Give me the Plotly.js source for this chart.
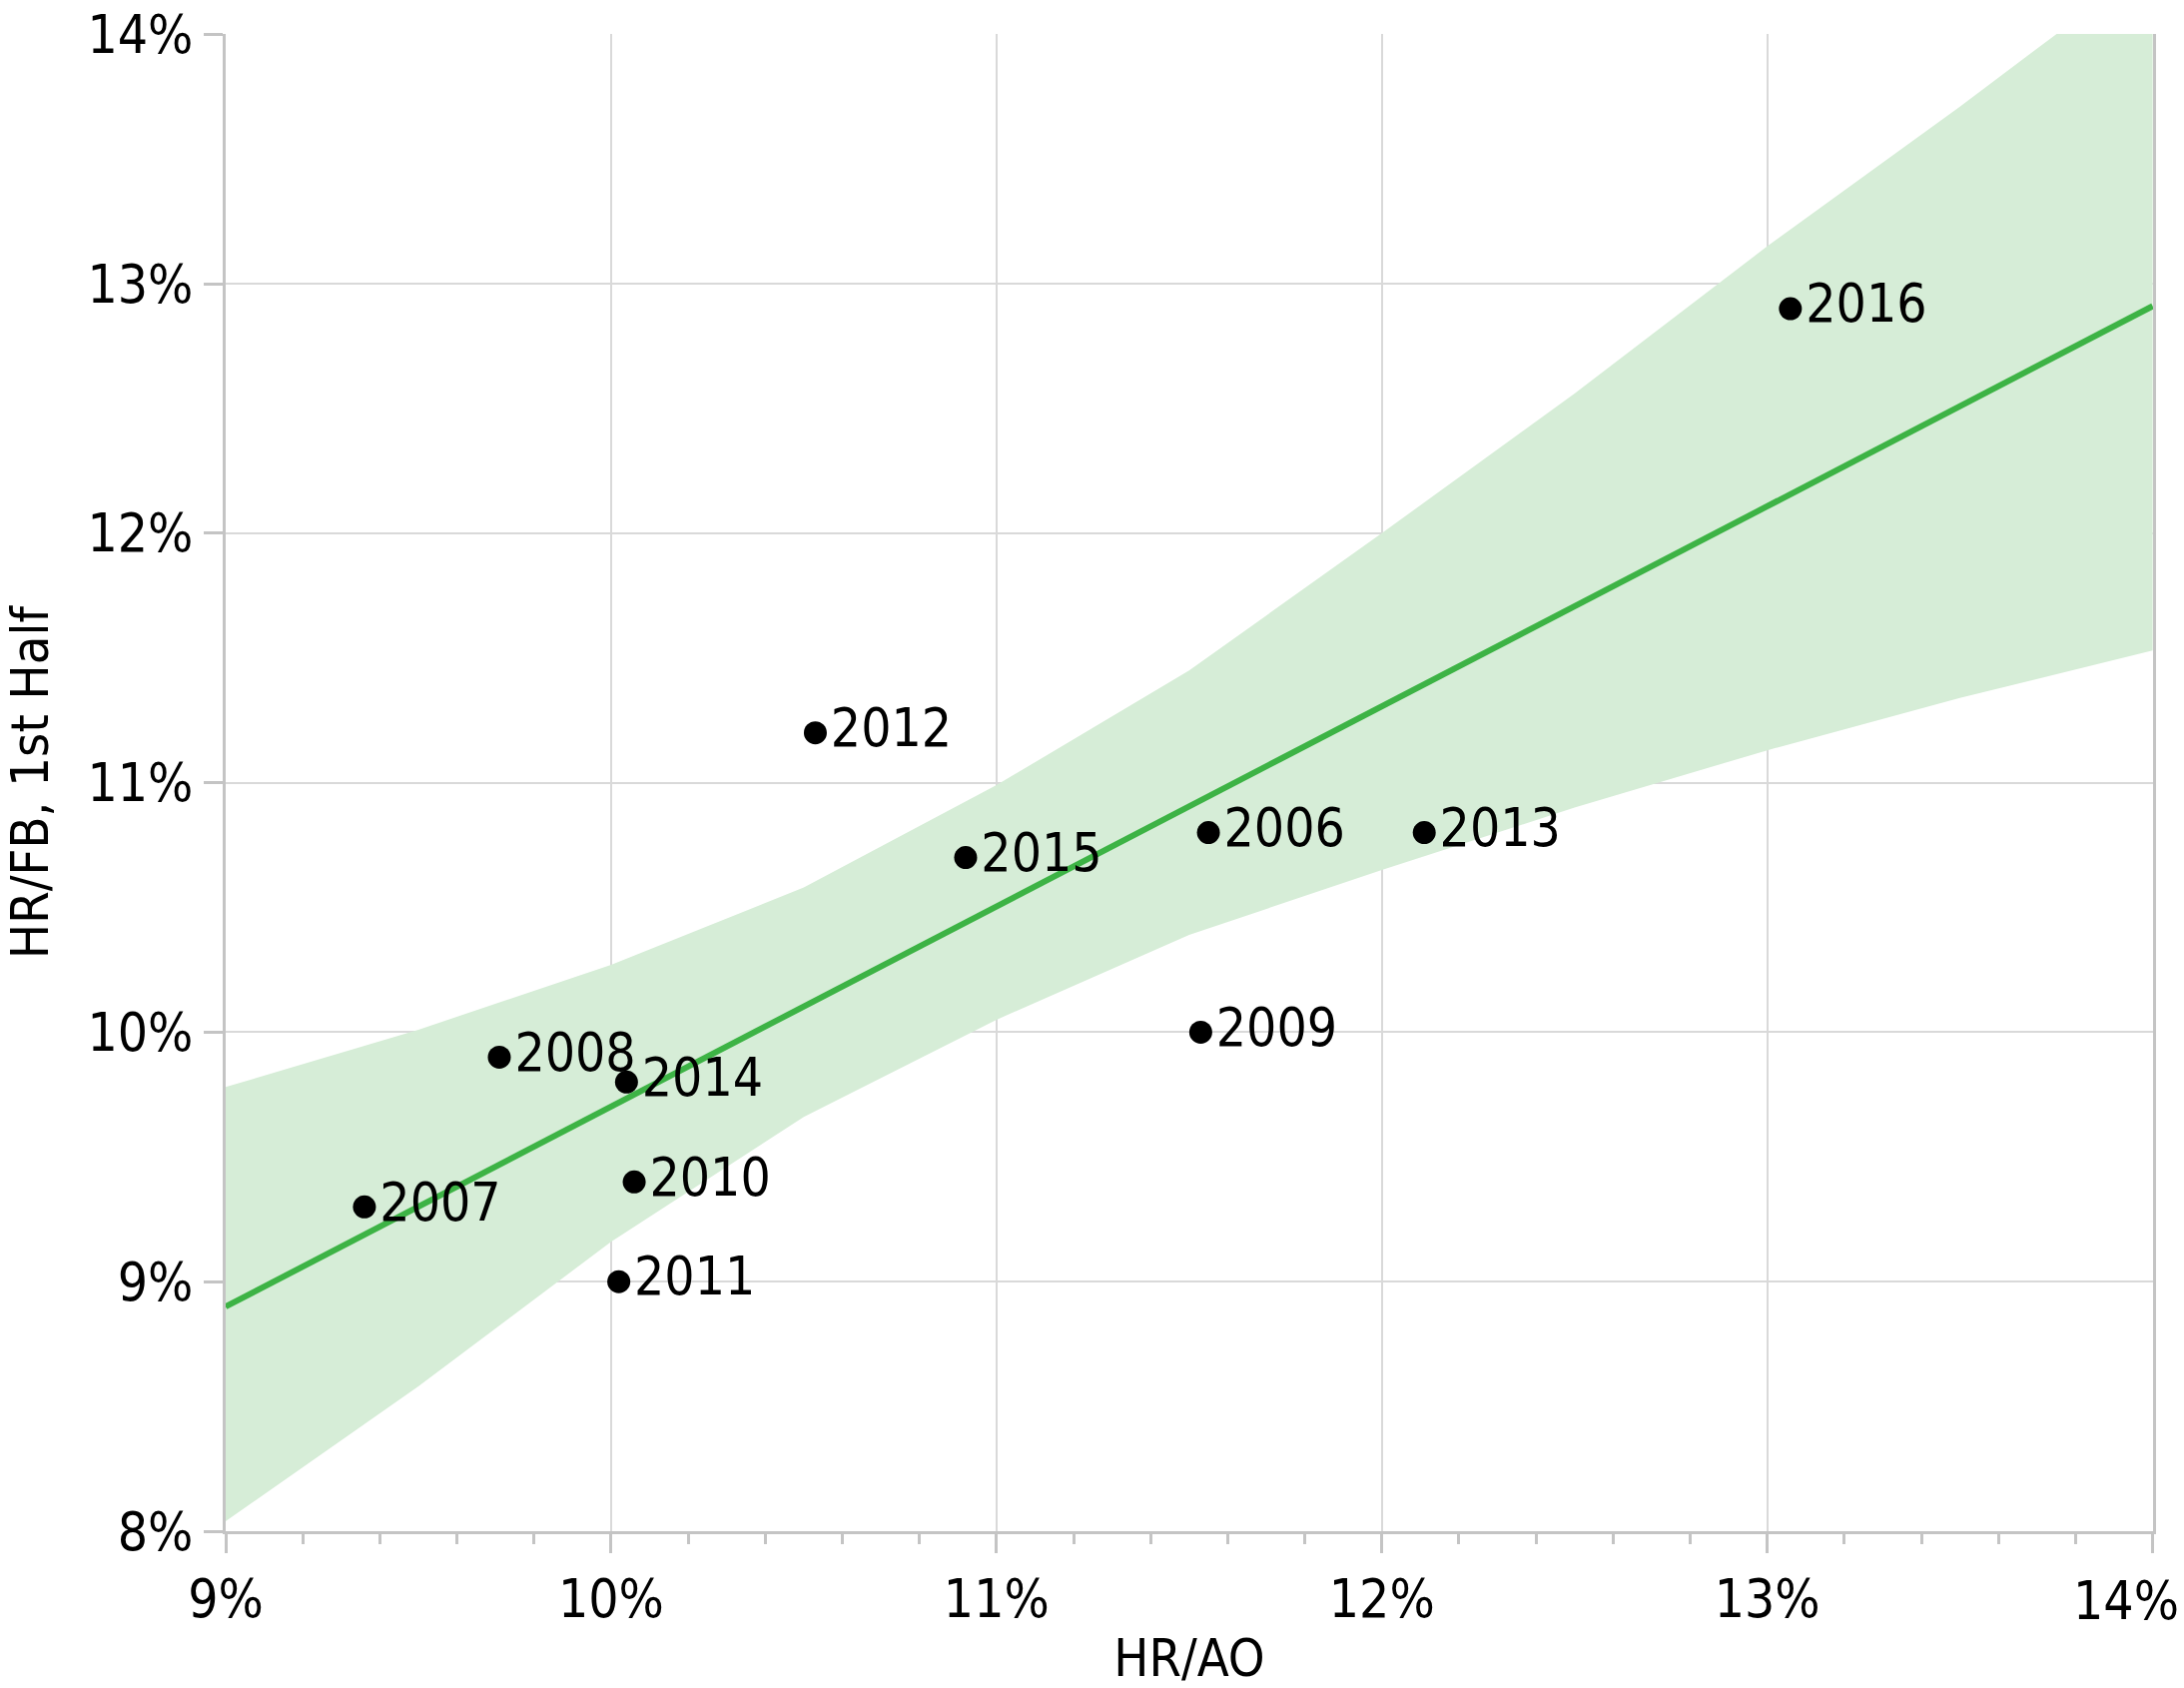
<!DOCTYPE html>
<html>
<head>
<meta charset="utf-8">
<script src="https://cdn.plot.ly/plotly-3.0.1.min.js"></script>
<style>
  body { margin: 0; background: #fff; }
  #chart { width: 2187px; height: 1690px; }
</style>
</head>
<body>
<div id="chart"></div>
<script>
// season points, HR/AO on x, 1st half HR/FB on y (percent)
var years = ['2006', '2007', '2008', '2009', '2010', '2011', '2012', '2013', '2014', '2015', '2016'];
var hrAO = [11.55, 9.36, 9.71, 11.53, 10.06, 10.02, 10.53, 12.11, 10.04, 10.92, 13.06];
var hrFB = [10.8, 9.3, 9.9, 10.0, 9.4, 9.0, 11.2, 10.8, 9.8, 10.7, 12.9];

// fitted line at the two ends
var fitX = [9, 14];
var fitY = [8.90, 12.91];

// confidence band edges
var bandX = [9, 9.5, 10, 10.5, 11, 11.5, 12, 12.5, 13, 13.5, 14];
var bandUpper = [9.78, 10.01, 10.27, 10.58, 10.99, 11.45, 12.0, 12.56, 13.15, 13.71, 14.29];
var bandLower = [8.04, 8.58, 9.16, 9.66, 10.05, 10.39, 10.65, 10.90, 11.13, 11.34, 11.53];

// last x label sits flush with the right edge, so it is drawn as an annotation
var xTicks = [9, 10, 11, 12, 13, 14];
var xLabels = ['9%', '10%', '11%', '12%', '13%', ''];
var xLastLabel = '14%';
var yTicks = [8, 9, 10, 11, 12, 13, 14];
var yLabels = ['8%', '9%', '10%', '11%', '12%', '13%', '14%'];

var font = 'DejaVu Sans Condensed, Open Sans, sans-serif';
var gridCol = '#d9d9d9';
var axisCol = '#c4c4c4';
var tickSize = 53;

var lower = {
  x: bandX, y: bandLower,
  mode: 'lines', line: {width: 0, color: 'rgba(0,0,0,0)'},
  hoverinfo: 'skip', showlegend: false
};
var upper = {
  x: bandX, y: bandUpper,
  mode: 'lines', line: {width: 0, color: 'rgba(0,0,0,0)'},
  fill: 'tonexty', fillcolor: 'rgb(214,237,215)',
  hoverinfo: 'skip', showlegend: false
};
var fit = {
  x: fitX, y: fitY,
  mode: 'lines', line: {color: '#3db345', width: 6},
  showlegend: false
};
var pts = {
  x: hrAO, y: hrFB, text: years,
  mode: 'markers+text', textposition: 'middle right',
  textfont: {family: font, size: 53, color: '#000'},
  marker: {color: '#000', size: 23},
  cliponaxis: false, showlegend: false
};

var layout = {
  width: 2187, height: 1690,
  margin: {l: 226, r: 31, t: 34, b: 157},
  paper_bgcolor: '#fff', plot_bgcolor: '#fff',
  font: {family: font, color: '#000'},
  xaxis: {
    range: [9, 14.001], tickmode: 'array', tickvals: xTicks, ticktext: xLabels,
    showgrid: true, gridcolor: gridCol, gridwidth: 2,
    showline: true, linecolor: axisCol, linewidth: 3,
    ticks: 'outside', ticklen: 19, tickwidth: 3, tickcolor: axisCol,
    tickfont: {size: tickSize, family: font},
    minor: {dtick: 0.2, ticks: 'outside', ticklen: 10, tickwidth: 3, tickcolor: axisCol, showgrid: false},
    zeroline: false, automargin: false,
    title: {text: 'HR/AO', font: {size: 52, family: font}, standoff: 14}
  },
  yaxis: {
    range: [8, 14.001], tickmode: 'array', tickvals: yTicks, ticktext: yLabels,
    showgrid: true, gridcolor: gridCol, gridwidth: 2,
    showline: true, linecolor: axisCol, linewidth: 3, mirror: true,
    ticks: 'outside', ticklen: 19, tickwidth: 3, tickcolor: axisCol,
    tickfont: {size: tickSize, family: font},
    zeroline: false, automargin: false,
    title: {text: 'HR/FB, 1st Half', font: {size: 52, family: font}, standoff: 24}
  },
  annotations: [{
    x: xTicks[xTicks.length - 1], xref: 'x', y: 0, yref: 'paper',
    text: xLastLabel, showarrow: false,
    xanchor: 'right', yanchor: 'top', xshift: 28, yshift: -37,
    font: {size: tickSize, family: font, color: '#000'}
  }]
};

Plotly.newPlot('chart', [lower, upper, fit, pts], layout, {displayModeBar: false, staticPlot: true});
</script>
</body>
</html>
